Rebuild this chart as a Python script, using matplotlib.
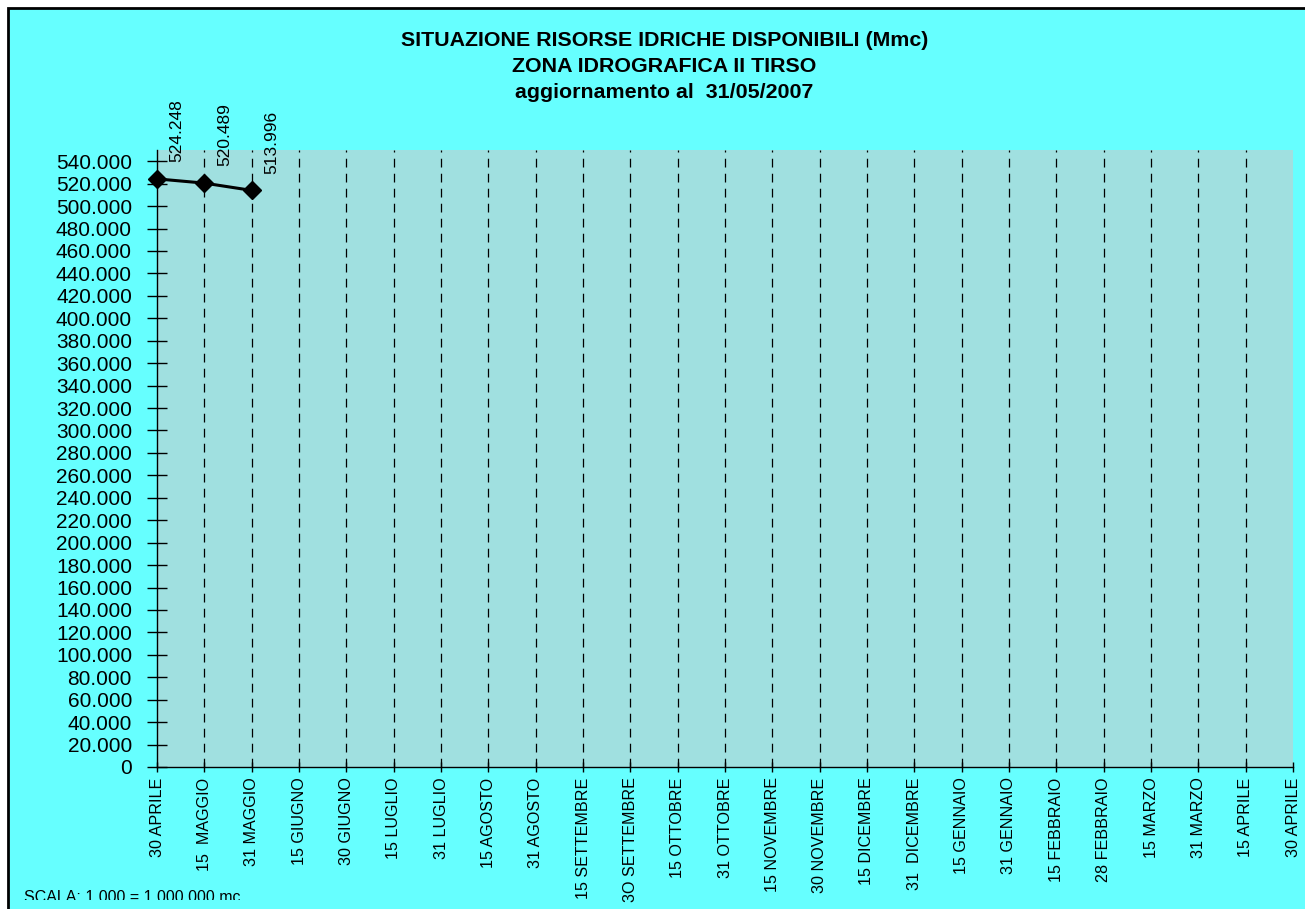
import matplotlib
matplotlib.use('Agg')
from matplotlib import pyplot as plt
from matplotlib.patches import Rectangle
from matplotlib.ticker import FuncFormatter
from matplotlib.transforms import Bbox, TransformedBbox

# date di rilevamento (asse x) e volumi disponibili (Mmc)
date = ['30 APRILE', '15  MAGGIO', '31 MAGGIO', '15 GIUGNO', '30 GIUGNO',
        '15 LUGLIO', '31 LUGLIO', '15 AGOSTO', '31 AGOSTO', '15 SETTEMBRE',
        '3O SETTEMBRE', '15 OTTOBRE', '31 OTTOBRE', '15 NOVEMBRE',
        '30 NOVEMBRE', '15 DICEMBRE', '31  DICEMBRE', '15 GENNAIO',
        '31 GENNAIO', '15 FEBBRAIO', '28 FEBBRAIO', '15 MARZO', '31 MARZO',
        '15 APRILE', '30 APRILE']
volumi = [524.248, 520.489, 513.996]

titolo = ['SITUAZIONE RISORSE IDRICHE DISPONIBILI (Mmc)',
          'ZONA IDROGRAFICA II TIRSO',
          'aggiornamento al  31/05/2007']

plt.rcParams['font.family'] = ['Liberation Sans', 'DejaVu Sans']

W, H = 1305, 909
fig = plt.figure(figsize=(W / 100, H / 100), dpi=100, facecolor='white')

# cornice del grafico (sotto gli assi)
fig.patches.append(Rectangle((8 / W, -0.1), 1.2, 1.1 - 8 / H,
                             transform=fig.transFigure, facecolor='#66FFFF',
                             edgecolor='black', linewidth=2, zorder=-1))

ax = fig.add_axes([157 / W, 1 - 767 / H, (1293 - 157) / W, (767 - 150) / H])
ax.set_zorder(1)
ax.set_facecolor('#A0E0E0')

x = list(range(len(date)))
for i in x[1:-1]:
    ax.axvline(i, color='black', linewidth=0.9, dashes=(7, 5), zorder=1)

ax.plot(x[:len(volumi)], volumi, color='black', linewidth=2.2,
        marker='D', markersize=9, zorder=3, clip_on=False)

for i, v in enumerate(volumi):
    ax.annotate('%.3f' % v, (i, v), xytext=(9, 12), textcoords='offset points',
                rotation=90, ha='left', va='bottom', fontsize=12.5,
                annotation_clip=False)

ax.set_xlim(0, len(date) - 1)
ax.set_ylim(0, 550)
ax.set_yticks(list(range(0, 541, 20)))
ax.yaxis.set_major_formatter(FuncFormatter(lambda v, p: '0' if v == 0 else '%.3f' % v))
ax.set_xticks(x)
ax.set_xticklabels(date, rotation=90, fontsize=11.6)
ax.tick_params(axis='y', labelsize=15, direction='inout', length=14, width=1, pad=11)
ax.tick_params(axis='x', direction='inout', length=7, width=1, pad=4)

for s in ['top', 'right']:
    ax.spines[s].set_visible(False)
for s in ['left', 'bottom']:
    ax.spines[s].set_color('black')
    ax.spines[s].set_linewidth(1)

for k, riga in enumerate(titolo):
    fig.text(0.509, 1 - (40 + k * 26.5) / H, riga, ha='center', va='center',
             fontsize=15.4, fontweight='bold')

scala = fig.text(24 / W, 1 - 890 / H, 'SCALA: 1.000 = 1.000.000 mc', ha='left',
                 va='top', fontsize=11.5)
scala.set_clip_box(TransformedBbox(Bbox([[0, 9 / H], [1, 1]]), fig.transFigure))
scala.set_clip_on(True)

fig.savefig('out.png', dpi=100, facecolor=fig.get_facecolor())
